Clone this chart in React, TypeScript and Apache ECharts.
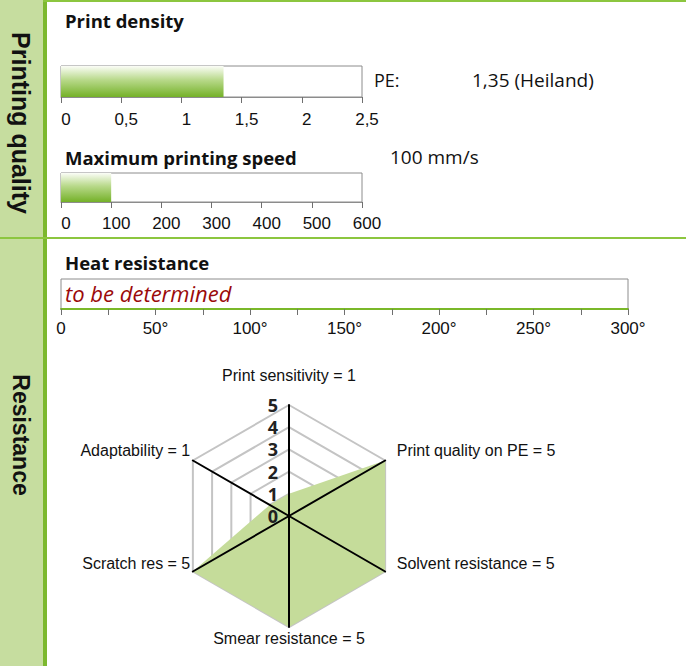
import React, { useEffect, useRef } from 'react';
import * as echarts from 'echarts';

// ---- data ----
const densityValue = [1.35];
const densityMax = 2.5;
const densityStep = 0.5;
const speedValue = [100];
const speedMax = 600;
const speedStep = 100;
const heatMax = 300;
const heatStep = 25;
const radarNames = ['Print sensitivity', 'Adaptability', 'Scratch res', 'Smear resistance', 'Solvent resistance', 'Print quality on PE'];
const radarValues = [1, 1, 5, 5, 5, 5];
const radarMax = 5;

const namePads = [
  [0, 0, 19, 0],
  [0, 0, 18, 0],
  [0, 0, 20, 0],
  [0, 0, 0, 0],
  [0, 0, 20, 9],
  [0, 0, 18, 9],
];

const tickFont = { fontFamily: 'Liberation Sans', fontSize: 17, color: '#111' };
const green = '#7ab829';

function barGrad() {
  return new echarts.graphic.LinearGradient(0, 0, 0, 1, [
    { offset: 0, color: '#fbfdf7' },
    { offset: 0.45, color: '#b8d98a' },
    { offset: 1, color: '#74b128' },
  ]);
}

export default function App() {
  const ref = useRef<HTMLDivElement>(null);
  useEffect(() => {
    if (!ref.current) return;
    const chart = echarts.init(ref.current, undefined, { renderer: 'svg' });
    const xAxisBase = (max: number, step: number, margin: number, fmt: (v: number) => string) => ({
      type: 'value',
      min: 0,
      max,
      interval: step,
      axisLine: { show: true, lineStyle: { color: '#8c8c8c', width: 1 } },
      axisTick: { show: true, length: 6, lineStyle: { color: '#6f6f6f' } },
      splitLine: { show: false },
      axisLabel: { ...tickFont, margin, padding: [0, 0, 0, 10], formatter: fmt },
    });
    const yAxisBase = (i: number) => ({
      type: 'category',
      gridIndex: i,
      data: ['v'],
      show: false,
    });
    const rich: Record<string, any> = {};
    namePads.forEach((p, i) => {
      rich['p' + i] = { padding: p, fontFamily: 'Liberation Sans', fontSize: 16, color: '#111' };
    });
    const indicators = radarNames.map((n, i) => ({ name: `${n} = ${radarValues[i]}`, min: 0, max: radarMax }));
    const heatFmt = (v: number) => (v % 50 === 0 ? (v === 0 ? '0' : v + '°') : '');
    const option: any = {
      animation: false,
      grid: [
        { left: 61, top: 66, width: 301, height: 31, show: true, borderColor: '#8c8c8c', borderWidth: 1 },
        { left: 61, top: 173, width: 301, height: 29, show: true, borderColor: '#8c8c8c', borderWidth: 1 },
        { left: 61, top: 279, width: 567, height: 30, show: true, borderColor: '#8c8c8c', borderWidth: 1 },
      ],
      xAxis: [
        { ...xAxisBase(densityMax, densityStep, 14, (v: number) => String(v).replace('.', ',')), gridIndex: 0 },
        { ...xAxisBase(speedMax, speedStep, 13, (v: number) => String(v)), gridIndex: 1 },
        {
          ...xAxisBase(heatMax, heatStep, 11, heatFmt),
          gridIndex: 2,
          axisLine: { show: true, lineStyle: { color: green, width: 2 } },
          axisLabel: { ...tickFont, fontSize: 17, margin: 11, formatter: heatFmt },
        },
      ],
      yAxis: [yAxisBase(0), yAxisBase(1), yAxisBase(2)],
      radar: [
        {
          center: [289, 516],
          radius: 111,
          startAngle: 90,
          splitNumber: 5,
          indicator: indicators,
          shape: 'polygon',
          splitLine: { show: true, lineStyle: { color: '#c4c4c4', width: 2 } },
          splitArea: { show: false },
          axisLine: { show: false },
          axisTick: { show: false },
          axisLabel: { show: false },
          axisName: { show: false },
        },
        {
          center: [289, 516],
          radius: 111,
          startAngle: 90,
          splitNumber: 5,
          z: 5,
          indicator: indicators.map((ind, i) =>
            i === 0
              ? { ...ind, axisLabel: { show: true, margin: 11, fontFamily: 'Open Sans', fontWeight: 'bold', fontSize: 18, color: '#222' } }
              : ind
          ),
          shape: 'polygon',
          nameGap: 3,
          splitLine: { show: false },
          splitArea: { show: false },
          axisLine: { show: true, lineStyle: { color: '#000', width: 2 } },
          axisTick: { show: false },
          axisLabel: { show: false },
          axisName: {
            show: true,
            formatter: (name: string) => {
              const idx = indicators.findIndex((d) => d.name === name);
              return `{p${idx}|${name}}`;
            },
            rich,
            fontFamily: 'Liberation Sans',
            fontSize: 16,
            color: '#111',
          },
        },
      ],
      series: [
        {
          type: 'bar',
          xAxisIndex: 0,
          yAxisIndex: 0,
          data: densityValue,
          barWidth: '100%',
          itemStyle: { color: barGrad() },
        },
        {
          type: 'bar',
          xAxisIndex: 1,
          yAxisIndex: 1,
          data: speedValue,
          barWidth: '100%',
          itemStyle: { color: barGrad() },
        },
        {
          type: 'radar',
          radarIndex: 0,
          z: 2,
          symbol: 'none',
          lineStyle: { width: 0 },
          areaStyle: { color: '#c5dc9a', opacity: 1 },
          data: [{ value: radarValues }],
        },
      ],
      graphic: [
        { type: 'rect', shape: { x: 0, y: 0, width: 43, height: 666 }, style: { fill: '#c6dd9f' }, z: -10 },
        { type: 'rect', shape: { x: 43, y: 0, width: 4, height: 666 }, style: { fill: '#7cb82f' }, z: -9 },
        { type: 'rect', shape: { x: 43, y: 0, width: 643, height: 2 }, style: { fill: '#8cc63f' }, z: -9 },
        { type: 'rect', shape: { x: 0, y: 237, width: 686, height: 2 }, style: { fill: '#8cc63f' }, z: -9 },
        {
          type: 'text', x: 21, y: 123, rotation: -Math.PI / 2,
          style: { text: 'Printing quality', fontFamily: 'Liberation Sans', fontWeight: 'bold', fontSize: 25, fill: '#111', align: 'center', verticalAlign: 'middle' },
        },
        {
          type: 'text', x: 21, y: 435, rotation: -Math.PI / 2,
          style: { text: 'Resistance', fontFamily: 'Liberation Sans', fontWeight: 'bold', fontSize: 23, fill: '#111', align: 'center', verticalAlign: 'middle' },
        },
        { type: 'text', x: 65, y: 20, style: { text: 'Print density', fontFamily: 'Open Sans', fontWeight: 'bold', fontSize: 18.5, fill: '#111', verticalAlign: 'middle' } },
        { type: 'text', x: 374, y: 80, style: { text: 'PE:', fontFamily: 'Open Sans', fontSize: 18, fill: '#111', verticalAlign: 'middle' } },
        { type: 'text', x: 472, y: 80, style: { text: '1,35 (Heiland)', fontFamily: 'Open Sans', fontSize: 19, fill: '#111', verticalAlign: 'middle' } },
        { type: 'text', x: 65, y: 157, style: { text: 'Maximum printing speed', fontFamily: 'Open Sans', fontWeight: 'bold', fontSize: 18.5, fill: '#111', verticalAlign: 'middle' } },
        { type: 'text', x: 390, y: 157, style: { text: '100 mm/s', fontFamily: 'Open Sans', fontSize: 19, fill: '#111', verticalAlign: 'middle' } },
        { type: 'text', x: 65, y: 262, style: { text: 'Heat resistance', fontFamily: 'Open Sans', fontWeight: 'bold', fontSize: 18.5, fill: '#111', verticalAlign: 'middle' } },
        { type: 'text', x: 65, y: 293, z: 10, style: { text: 'to be determined', fontFamily: 'Open Sans', fontStyle: 'italic', fontSize: 22, fill: '#9b0a0a', verticalAlign: 'middle' } },
      ],
    };
    chart.setOption(option);
    return () => chart.dispose();
  }, []);
  return <div ref={ref} style={{ position: 'absolute', left: 0, top: 0, width: 686, height: 666 }} />;
}
